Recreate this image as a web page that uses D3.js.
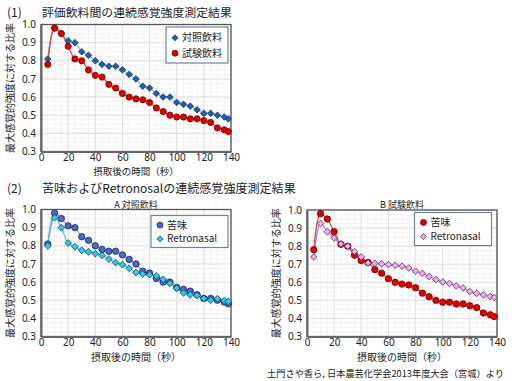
<!DOCTYPE html>
<html><head><meta charset="utf-8">
<script src="https://cdn.jsdelivr.net/npm/d3@7"></script>
<style>
body{margin:0;background:#fff;}
svg{display:block;font-family:"Noto Sans CJK JP","Noto Sans",sans-serif;}
</style></head>
<body>
<svg id="c" width="518" height="381"></svg>
<script>
const times = [5,10,15,20,25,30,35,40,45,50,55,60,65,70,75,80,85,90,95,100,105,110,115,120,125,130,135,138];
const controlDrink = [0.81,0.98,0.95,0.91,0.90,0.85,0.83,0.80,0.78,0.77,0.77,0.75,0.725,0.70,0.66,0.65,0.62,0.60,0.60,0.57,0.56,0.55,0.53,0.51,0.51,0.50,0.49,0.48];
const testDrink = [0.78,0.98,0.95,0.88,0.81,0.80,0.75,0.72,0.71,0.67,0.65,0.62,0.60,0.59,0.585,0.57,0.54,0.52,0.50,0.49,0.49,0.48,0.48,0.47,0.46,0.43,0.42,0.41];
const retroA = [0.80,0.955,0.90,0.815,0.795,0.775,0.767,0.757,0.747,0.727,0.707,0.696,0.676,0.652,0.645,0.641,0.634,0.615,0.593,0.567,0.54,0.53,0.526,0.51,0.50,0.508,0.497,0.493];
const retroB = [0.74,0.925,0.88,0.845,0.812,0.80,0.77,0.74,0.707,0.705,0.702,0.698,0.694,0.689,0.679,0.661,0.65,0.632,0.615,0.602,0.593,0.58,0.569,0.549,0.539,0.53,0.521,0.516];
const xTicks = [0,20,40,60,80,100,120,140];
const yTicks = [0.3,0.4,0.5,0.6,0.7,0.8,0.9,1.0];
const titleNums = ["(1)","(2)"];
const titles = ["評価飲料間の連続感覚強度測定結果","苦味およびRetronosalの連続感覚強度測定結果"];
const yLabel = "最大感覚的強度に対する比率";
const xLabel = "摂取後の時間（秒）";
const source = "土門さや香ら, 日本農芸化学会2013年度大会（宮城）より";

const svg = d3.select("#c");

const styles = {
  blueDiamond:{shape:"diamond", fill:"#1e5fb0", stroke:"#123a70", line:"#8fb0d0", size:3.3},
  redCircle:{shape:"circle", fill:"#e00000", stroke:"#6a0000", line:"#e04040", size:3.1},
  blueCircle:{shape:"circle", fill:"#4a68c8", stroke:"#1a2a60", line:"#8aa4d4", size:3.2},
  cyanDiamond:{shape:"diamond", fill:"#30c8f0", stroke:"#10405a", line:"#40c0e8", size:3.4},
  redCircleB:{shape:"circle", fill:"#e00000", stroke:"#6a0000", line:"#c05040", size:3.2},
  pinkDiamond:{shape:"diamond", fill:"#f4a8f0", stroke:"#503050", line:"#d070d8", size:3.3}
};

function fitText(sel, width){
  const fs = parseFloat(sel.attr("font-size"));
  const w = sel.node().getComputedTextLength();
  sel.attr("font-size", fs*width/w);
}

function marker(g, st, cx, cy, s){
  s = s || st.size;
  if(st.shape==="circle"){
    g.append("circle").attr("cx",cx).attr("cy",cy).attr("r",s).attr("fill",st.fill).attr("stroke",st.stroke).attr("stroke-width",0.8);
  } else {
    g.append("path").attr("d",`M${cx},${cy-s}L${cx+s},${cy}L${cx},${cy+s}L${cx-s},${cy}Z`).attr("fill",st.fill).attr("stroke",st.stroke).attr("stroke-width",0.8);
  }
}

function chart(opt){
  const x = d3.scaleLinear().domain([0,140]).range([opt.x0,opt.x1]);
  const y = d3.scaleLinear().domain([0.3,1.0]).range([opt.y1,opt.y0]);
  const g = svg.append("g");
  const minorX = d3.range(0,141,5), minorY = d3.range(0.3,1.0001,0.025);
  g.selectAll(".mx").data(minorX).enter().append("line").attr("x1",d=>x(d)).attr("x2",d=>x(d)).attr("y1",opt.y0).attr("y2",opt.y1).attr("stroke","#f0f0f0").attr("stroke-width",0.8);
  g.selectAll(".my").data(minorY).enter().append("line").attr("y1",d=>y(d)).attr("y2",d=>y(d)).attr("x1",opt.x0).attr("x2",opt.x1).attr("stroke","#f0f0f0").attr("stroke-width",0.8);
  g.selectAll(".gx").data(xTicks).enter().append("line").attr("x1",d=>x(d)).attr("x2",d=>x(d)).attr("y1",opt.y0).attr("y2",opt.y1).attr("stroke","#dedede").attr("stroke-width",0.9);
  g.selectAll(".gy").data(yTicks).enter().append("line").attr("y1",d=>y(d)).attr("y2",d=>y(d)).attr("x1",opt.x0).attr("x2",opt.x1).attr("stroke","#dedede").attr("stroke-width",0.9);
  g.append("rect").attr("x",opt.x0).attr("y",opt.y0).attr("width",opt.x1-opt.x0).attr("height",opt.y1-opt.y0).attr("fill","none").attr("stroke","#555").attr("stroke-width",1.3);
  const xa = g.append("g").attr("transform",`translate(0,${opt.y1})`).call(d3.axisBottom(x).tickValues(xTicks).tickSize(0).tickPadding(2));
  const ya = g.append("g").attr("transform",`translate(${opt.x0},0)`).call(d3.axisLeft(y).tickValues(yTicks).tickFormat(d3.format(".1f")).tickSize(0).tickPadding(5));
  [xa,ya].forEach(a=>{a.select(".domain").attr("stroke","#666").attr("stroke-width",2);a.selectAll("text").attr("font-size",10).attr("fill","#222").attr("font-family","'Noto Sans','Noto Sans CJK JP',sans-serif");});
  g.append("text").attr("x",(opt.x0+opt.x1)/2).attr("y",opt.y1+opt.xlOff).attr("text-anchor","middle").attr("font-size",opt.xlFs).attr("fill","#222").text(xLabel);
  const ly = (opt.y0+opt.y1)/2;
  g.append("text").attr("transform",`translate(${opt.x0-27},${ly}) rotate(-90)`).attr("text-anchor","middle").attr("font-size",10).attr("fill","#222").text(yLabel);
  if(opt.sub) g.append("text").attr("x",(opt.x0+opt.x1)/2).attr("y",opt.y0-2).attr("text-anchor","middle").attr("font-size",9).attr("fill","#222").text(opt.sub);
  const line = d3.line().x(d=>x(d[0])).y(d=>y(d[1])).curve(d3.curveCatmullRom.alpha(0.5));
  opt.series.forEach(s=>{
    const pts = times.map((t,i)=>[t,s.values[i]]);
    g.append("path").attr("d",line(pts)).attr("fill","none").attr("stroke",s.style.line).attr("stroke-width",1.2);
  });
  opt.series.forEach(s=>{
    const mg = g.append("g");
    times.forEach((t,i)=>marker(mg,s.style,x(t),y(s.values[i])));
  });
  const L = opt.legend;
  g.append("rect").attr("x",L.x).attr("y",L.y).attr("width",L.w).attr("height",L.h).attr("fill","#fff").attr("stroke","#6a84a8").attr("stroke-width",1.2);
  opt.series.forEach((s,i)=>{
    const cy = L.y + L.h*(0.3+0.4*i)+ (i===0?0:1);
    marker(g,s.style,L.x+9,cy,3);
    g.append("text").attr("x",L.x+16).attr("y",cy).attr("dy","0.35em").attr("font-size",10).attr("fill","#222").text(s.name);
  });
}

svg.append("text").attr("x",7).attr("y",17).attr("font-size",12).attr("fill","#222").text(titleNums[0]);
fitText(svg.append("text").attr("x",42).attr("y",17).attr("font-size",12).attr("fill","#222").text(titles[0]), 190);
svg.append("text").attr("x",7).attr("y",193).attr("font-size",12).attr("fill","#222").text(titleNums[1]);
fitText(svg.append("text").attr("x",42).attr("y",193).attr("font-size",12).attr("fill","#222").text(titles[1]), 254);

chart({x0:41,x1:231,y0:24.5,y1:151.5,xlOff:23.2,xlFs:9.5,legend:{x:166,y:27,w:62,h:36},
  series:[{name:"対照飲料",values:controlDrink,style:styles.blueDiamond},{name:"試験飲料",values:testDrink,style:styles.redCircle}]});
chart({x0:41,x1:231,y0:209.5,y1:336.5,xlOff:24,xlFs:10,sub:"A 対照飲料",legend:{x:151,y:215.5,w:77,h:32},
  series:[{name:"苦味",values:controlDrink,style:styles.blueCircle},{name:"Retronasal",values:retroA,style:styles.cyanDiamond}]});
chart({x0:307,x1:497,y0:210,y1:336.5,xlOff:24,xlFs:10,sub:"B 試験飲料",legend:{x:414.5,y:212.5,w:77,h:33},
  series:[{name:"苦味",values:testDrink,style:styles.redCircleB},{name:"Retronasal",values:retroB,style:styles.pinkDiamond}]});

fitText(svg.append("text").attr("x",267).attr("y",376.5).attr("font-size",10).attr("fill","#222").text(source), 237);
</script>
</body></html>
